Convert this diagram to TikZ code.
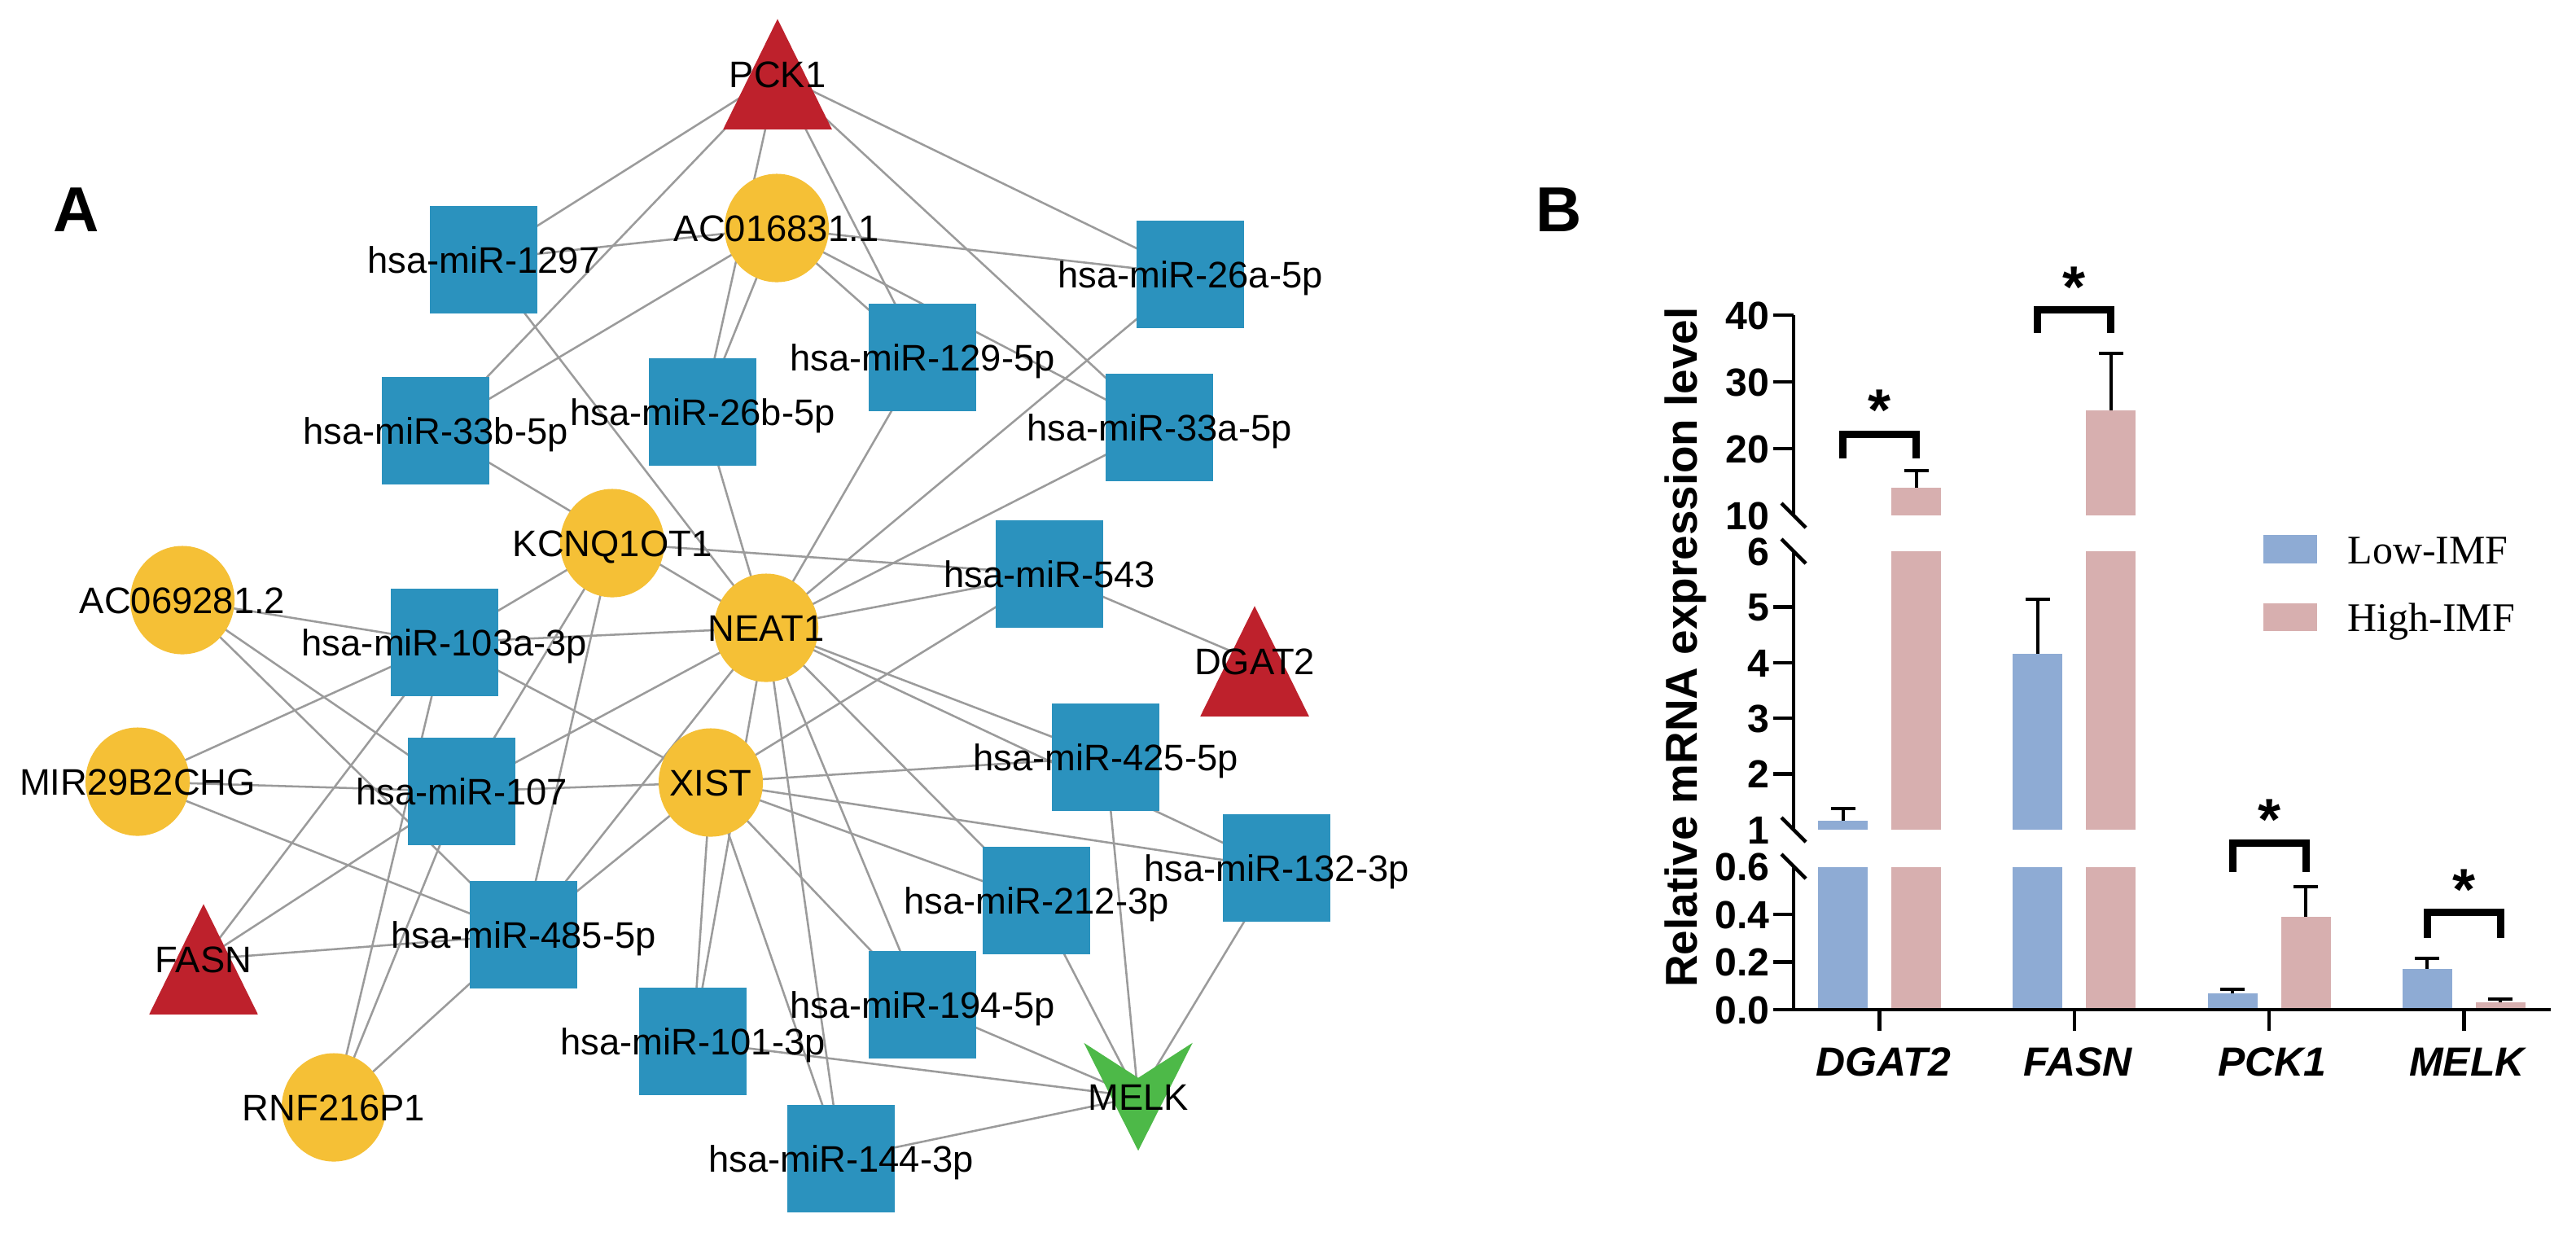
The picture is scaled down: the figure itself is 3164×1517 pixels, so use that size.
\documentclass[tikz,border=0pt]{standalone}
\usepackage{fontspec}
\setmainfont{Liberation Sans}
\newfontfamily\serifL{Liberation Serif}
\usetikzlibrary{calc,shapes.geometric}
\pgfdeclarelayer{bglayer}
\pgfdeclarelayer{edgelayer}
\pgfsetlayers{bglayer,edgelayer,main}
\definecolor{sqblue}{RGB}{43,146,190}
\definecolor{ciyel}{RGB}{245,192,54}
\definecolor{trired}{RGB}{190,33,44}
\definecolor{vgreen}{RGB}{77,185,72}
\definecolor{edgegray}{RGB}{155,155,155}
\definecolor{barblue}{RGB}{142,171,212}
\definecolor{barpink}{RGB}{215,175,175}
\begin{document}
\begin{tikzpicture}[x=0.01cm,y=-0.01cm,
  sq/.style={rectangle,fill=sqblue,minimum size=1.32cm,inner sep=0pt},
  ci/.style={ellipse,fill=ciyel,minimum width=1.28cm,minimum height=1.33cm,inner sep=0pt},
  tribox/.style={rectangle,minimum width=1.32cm,minimum height=1.34cm,inner sep=0pt},
  vbox/.style={rectangle,minimum width=1.32cm,minimum height=1.31cm,inner sep=0pt},
  lab/.style={font=\fontsize{12.9pt}{15pt}\selectfont,inner sep=0pt,text height=9.3pt,text depth=0pt},
  edge/.style={draw=edgegray,line width=0.72pt},
  ax/.style={line width=1.28pt,line cap=butt},
  errb/.style={line width=1.14pt},
  brk/.style={line width=2.56pt,line join=miter},
  tk/.style={font=\bfseries\fontsize{13.7pt}{16pt}\selectfont,anchor=east,inner sep=0pt,text height=9.8pt,text depth=0pt},
  xl/.style={font=\bfseries\itshape\fontsize{14.2pt}{17pt}\selectfont,inner sep=0pt,text height=10.2pt,text depth=0pt},
  sig/.style={font=\bfseries\fontsize{20.5pt}{22pt}\selectfont,anchor=north,inner sep=0pt},
  panel/.style={font=\bfseries\fontsize{22.2pt}{25pt}\selectfont,inner sep=0pt,text height=15.9pt,text depth=0pt}]
\useasboundingbox (0,0) rectangle (3164,1517);
\begin{pgfonlayer}{bglayer}
\fill[white] (0,0) rectangle (3164,1517);
\end{pgfonlayer}

% ---------- panel A: network ----------
\node[tribox] (pck1) at (955,91) {};
\node[ci] (ac01) at (954,280) {};
\node[sq] (m1297) at (594,319) {};
\node[sq] (m26a) at (1462,337) {};
\node[sq] (m129) at (1133,439) {};
\node[sq] (m33b) at (535,529) {};
\node[sq] (m26b) at (863,506) {};
\node[sq] (m33a) at (1424,525) {};
\node[ci] (kcnq) at (752,667) {};
\node[sq] (m543) at (1289,705) {};
\node[ci] (ac06) at (224,737) {};
\node[ci] (neat1) at (941,771) {};
\node[sq] (m103a) at (546,789) {};
\node[tribox] (dgat2) at (1541,812) {};
\node[ci] (mir29) at (169,960) {};
\node[sq] (m107) at (567,972) {};
\node[ci] (xist) at (873,961) {};
\node[sq] (m425) at (1358,930) {};
\node[sq] (m132) at (1568,1066) {};
\node[sq] (m212) at (1273,1106) {};
\node[sq] (m485) at (643,1148) {};
\node[tribox] (fasn) at (250,1178) {};
\node[sq] (m194) at (1133,1234) {};
\node[sq] (m101) at (851,1279) {};
\node[vbox] (melk) at (1398,1347) {};
\node[ci] (rnf) at (410,1360) {};
\node[sq] (m144) at (1033,1423) {};

\foreach \n in {pck1,dgat2,fasn}
  \fill[trired] (\n.south west) -- (\n.south east) -- (\n.north) -- cycle;
\fill[vgreen] (melk.north west) -- ($(melk.north)+(0,43)$) -- (melk.north east) -- (melk.south) -- cycle;

\begin{pgfonlayer}{edgelayer}
\foreach \a/\b in {pck1/m1297,pck1/m33b,pck1/m26b,pck1/m129,pck1/m33a,pck1/m26a,
  ac01/m1297,ac01/m26a,ac01/m33b,ac01/m26b,ac01/m129,ac01/m33a,
  neat1/m1297,neat1/m26b,neat1/m129,neat1/m26a,neat1/m33a,neat1/m33b,neat1/m103a,neat1/m543,
  neat1/m107,neat1/m485,neat1/m101,neat1/m144,neat1/m194,neat1/m212,neat1/m425,neat1/m132,
  kcnq/m543,kcnq/m103a,kcnq/m107,kcnq/m485,
  xist/m103a,xist/m107,xist/m543,xist/m425,xist/m132,xist/m212,xist/m194,xist/m144,xist/m101,xist/m485,
  ac06/m103a,ac06/m107,ac06/m485,mir29/m103a,mir29/m107,mir29/m485,
  rnf/m103a,rnf/m107,rnf/m485,fasn/m103a,fasn/m107,fasn/m485,
  dgat2/m543,melk/m425,melk/m212,melk/m132,melk/m194,melk/m101,melk/m144}
  \draw[edge] (\a.center) -- (\b.center);
\end{pgfonlayer}

\foreach \n/\t in {pck1/PCK1,ac01/AC016831.1,m1297/hsa-miR-1297,m26a/hsa-miR-26a-5p,
  m129/hsa-miR-129-5p,m33b/hsa-miR-33b-5p,m26b/hsa-miR-26b-5p,m33a/hsa-miR-33a-5p,
  kcnq/KCNQ1OT1,m543/hsa-miR-543,ac06/AC069281.2,neat1/NEAT1,m103a/hsa-miR-103a-3p,
  dgat2/DGAT2,mir29/MIR29B2CHG,m107/hsa-miR-107,xist/XIST,m425/hsa-miR-425-5p,
  m132/hsa-miR-132-3p,m212/hsa-miR-212-3p,m485/hsa-miR-485-5p,fasn/FASN,
  m194/hsa-miR-194-5p,m101/hsa-miR-101-3p,melk/MELK,rnf/RNF216P1,m144/hsa-miR-144-3p}
  \node[lab] (\n-t) at (\n.center) {\t};

\node[panel] (labA) at (94,257) {A};
\node[panel] (labB) at (1915,257) {B};

% ---------- panel B: bar chart ----------
\fill[barblue] (2233,1240) rectangle (2294,1064.5);
\fill[barblue] (2233,1019) rectangle (2294,1008);
\fill[barpink] (2323,1240) rectangle (2384,1064.5);
\fill[barpink] (2323,1019) rectangle (2384,677);
\fill[barpink] (2323,633) rectangle (2384,599);
\fill[barblue] (2472.3,1240) rectangle (2533.3,1064.5);
\fill[barblue] (2472.3,1019) rectangle (2533.3,803);
\fill[barpink] (2562.3,1240) rectangle (2623.3,1064.5);
\fill[barpink] (2562.3,1019) rectangle (2623.3,677);
\fill[barpink] (2562.3,633) rectangle (2623.3,504);
\fill[barblue] (2711.6,1240) rectangle (2772.6,1220);
\fill[barpink] (2801.6,1240) rectangle (2862.6,1126);
\fill[barblue] (2950.9,1240) rectangle (3011.9,1190);
\fill[barpink] (3040.9,1240) rectangle (3101.9,1231);
\foreach \x/\ya/\yb in {2263.5/1008/993,2353.5/599/578,2502.8/803/736,2592.8/504/434,
  2742.1/1220/1215,2832.1/1126/1089,2981.4/1190/1177,3071.4/1231/1227}{
  \draw[errb] (\x,\ya) -- (\x,\yb);
  \draw[errb] (\x-15,\yb) -- (\x+15,\yb);
}
\draw[ax] (2203,387) -- (2203,633);
\draw[ax] (2203,677) -- (2203,1019);
\draw[ax] (2203,1064) -- (2203,1240);
\foreach \y in {387,469,551,745.4,813.8,882.2,950.6,1123,1181.5}
  \draw[ax] (2178,\y) -- (2203,\y);
\foreach \y in {633,677,1019,1064}
  \draw[ax] (2188,\y-15) -- (2218,\y+15);
\draw[ax] (2178,1240) -- (3133,1240);
\foreach \x in {2308.5,2547.8,2787.1,3026.4}
  \draw[ax] (\x,1240) -- (\x,1266);
\foreach \y/\t/\nm in {387/40/a,469/30/b,551/20/c,633/10/d,677/6/e,745.4/5/f,813.8/4/g,
  882.2/3/h,950.6/2/i,1019/1/j,1064/0.6/k,1123/0.4/l,1181.5/0.2/m,1240/0.0/n}
  \node[tk] (tick-\nm) at (2174,\y) {\t};
\node[xl] (xl1) at (2313,1304) {DGAT2};
\node[xl] (xl2) at (2552,1304) {FASN};
\node[xl] (xl3) at (2791,1304) {PCK1};
\node[xl] (xl4) at (3030,1304) {MELK};
\node[rotate=90,font=\bfseries\fontsize{15.6pt}{18pt}\selectfont,inner sep=0pt,text height=11.2pt,text depth=0pt] (ytitle) at (2065,795) {Relative mRNA expression level};
\draw[brk] (2263.5,563) -- (2263.5,533) -- (2353.5,533) -- (2353.5,563);
\draw[brk] (2502.8,409) -- (2502.8,380) -- (2592.8,380) -- (2592.8,409);
\draw[brk] (2742.1,1071) -- (2742.1,1035) -- (2832.1,1035) -- (2832.1,1071);
\draw[brk] (2981.4,1152) -- (2981.4,1120) -- (3071.4,1120) -- (3071.4,1152);
\node[sig] (s1) at (2308.5,478) {*};
\node[sig] (s2) at (2547.8,327) {*};
\node[sig] (s3) at (2787.1,981) {*};
\node[sig] (s4) at (3026.4,1067) {*};
\fill[barblue] (2780,657) rectangle (2846,692);
\fill[barpink] (2780,741) rectangle (2846,775);
\node[anchor=base west,inner sep=0pt,font=\serifL\fontsize{14.2pt}{17pt}\selectfont] (leg1) at (2883,692) {Low-IMF};
\node[anchor=base west,inner sep=0pt,font=\serifL\fontsize{14.2pt}{17pt}\selectfont] (leg2) at (2883,775) {High-IMF};
\end{tikzpicture}
\end{document}
